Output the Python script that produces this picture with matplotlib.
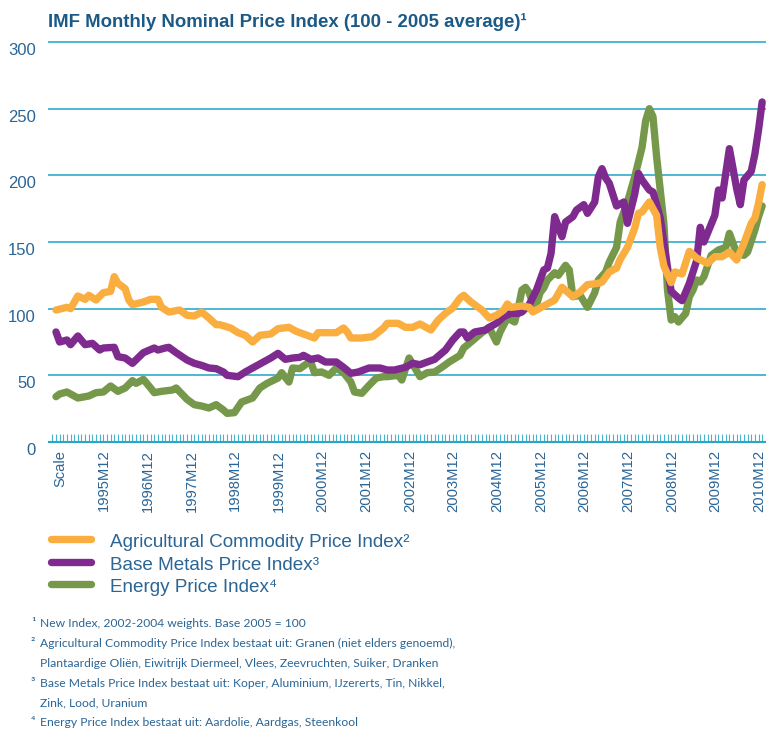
import matplotlib
matplotlib.use('Agg')
import matplotlib.pyplot as plt
import matplotlib.transforms as mtransforms
from matplotlib.lines import Line2D
from matplotlib import font_manager
from matplotlib.textpath import TextPath
from matplotlib.font_manager import FontProperties

W, H, DPI = 766, 731, 100

# ---------------- data ----------------
agri_dates = ['1994-12', '1995-03', '1995-04', '1995-06', '1995-08', '1995-09', '1995-11',
              '1996-01', '1996-03', '1996-04', '1996-05', '1996-07', '1996-08', '1996-09', '1996-12',
              '1997-02', '1997-04', '1997-05', '1997-07', '1997-10', '1997-12',
              '1998-02', '1998-04', '1998-06', '1998-08', '1998-09', '1998-12',
              '1999-02', '1999-04', '1999-06', '1999-08', '1999-11',
              '2000-01', '2000-04', '2000-06', '2000-09', '2000-11', '2000-12',
              '2001-02', '2001-05', '2001-07', '2001-08', '2001-09', '2001-12',
              '2002-03', '2002-06', '2002-07', '2002-10', '2002-12',
              '2003-02', '2003-04', '2003-07', '2003-09', '2003-11',
              '2004-01', '2004-03', '2004-04', '2004-06', '2004-09', '2004-11', '2005-01',
              '2005-03', '2005-04', '2005-05', '2005-08', '2005-10', '2005-11',
              '2006-02', '2006-05', '2006-07', '2006-10', '2006-12',
              '2007-02', '2007-05', '2007-06', '2007-08', '2007-10', '2007-11', '2008-01',
              '2008-03', '2008-04', '2008-05', '2008-07', '2008-09', '2008-10', '2008-11', '2009-01',
              '2009-02', '2009-04', '2009-06', '2009-08', '2009-11', '2010-01',
              '2010-03', '2010-05', '2010-07', '2010-09', '2010-11', '2010-12', '2011-01', '2011-02']
agri_values = [99, 101, 100, 109.5, 107, 110, 106.5,
               112, 113, 124, 119, 115, 106.5, 103, 105,
               107, 107, 101, 97.5, 99, 95,
               94.5, 97.5, 93, 88, 88, 85.5,
               82, 80, 75, 80, 81,
               85, 86, 83, 80, 78, 82,
               82, 82, 85.5, 82.5, 78, 78,
               79, 85.5, 89, 89, 86,
               86, 88.5, 84, 91.5, 96.5,
               100.5, 108, 110, 105, 99, 93, 95,
               99, 103.5, 101, 102, 101, 97.5,
               102, 106.5, 116, 109, 112.5,
               118, 119, 120, 127.5, 130.5, 137, 146,
               160.5, 171.5, 172.5, 180, 170, 146, 132, 119.5,
               127.5, 126, 143, 138, 134, 139,
               139, 142.5, 136.5, 149, 164, 168, 179, 193]

metals_dates = ['1994-12', '1995-01', '1995-03', '1995-04', '1995-06', '1995-08', '1995-10', '1995-12',
                '1996-01', '1996-04', '1996-05', '1996-07', '1996-09', '1996-12',
                '1997-03', '1997-04', '1997-06', '1997-07', '1997-09', '1997-12',
                '1998-02', '1998-04', '1998-06', '1998-08', '1998-10', '1998-11',
                '1999-02', '1999-04', '1999-06', '1999-09', '1999-11',
                '2000-01', '2000-03', '2000-05', '2000-07', '2000-08', '2000-10', '2000-12',
                '2001-02', '2001-05', '2001-07', '2001-09', '2001-11',
                '2002-02', '2002-05', '2002-07', '2002-09', '2002-12',
                '2003-02', '2003-04', '2003-06', '2003-08', '2003-11',
                '2004-01', '2004-03', '2004-04', '2004-05', '2004-07', '2004-10', '2004-11', '2005-01',
                '2005-03', '2005-05', '2005-07', '2005-08', '2005-10', '2005-12',
                '2006-02', '2006-03', '2006-04', '2006-05', '2006-07', '2006-08', '2006-10', '2006-11', '2007-01',
                '2007-02', '2007-04', '2007-05', '2007-06', '2007-07', '2007-08', '2007-10', '2007-12', '2008-01',
                '2008-03', '2008-04', '2008-05', '2008-07', '2008-08', '2008-09', '2008-10', '2008-12', '2009-01',
                '2009-03', '2009-04', '2009-06', '2009-08', '2009-09', '2009-10', '2010-01',
                '2010-02', '2010-03', '2010-05', '2010-07', '2010-08', '2010-09', '2010-11', '2010-12', '2011-01',
                '2011-02']
metals_values = [82.5, 75, 76.5, 73, 79.5, 73, 74, 69,
                 70.5, 71, 64, 63, 59, 67,
                 70.5, 69, 70.5, 71, 67, 61.5,
                 59, 57.5, 55.5, 55, 52.5, 50,
                 49, 52.5, 55.5, 60, 63,
                 66.5, 62, 63, 63.5, 65, 62, 63,
                 60, 60, 56, 51.5, 52.5,
                 55.5, 55.5, 54, 54, 56,
                 59, 58, 60, 62, 69,
                 76.5, 82.5, 82.5, 78, 82.5, 84, 86, 89,
                 94, 96.5, 96.5, 97.5, 103, 114,
                 129, 130.5, 141.5, 169, 154, 165, 169, 174, 178,
                 171.5, 180, 199, 205, 198, 194, 177, 180, 164,
                 186, 201.5, 196.5, 189, 187.5, 178, 168, 131, 113,
                 108, 106, 119, 136, 161, 150, 170,
                 189, 183, 220, 190, 178, 196.5, 203, 216, 234,
                 255]

energy_dates = ['1994-12', '1995-01', '1995-03', '1995-06', '1995-09', '1995-11',
                '1996-01', '1996-03', '1996-05', '1996-07', '1996-09', '1996-10', '1996-12',
                '1997-02', '1997-03', '1997-05', '1997-08', '1997-09', '1997-12',
                '1998-02', '1998-04', '1998-06', '1998-08', '1998-10', '1998-11',
                '1999-01', '1999-03', '1999-06', '1999-08', '1999-10',
                '2000-01', '2000-02', '2000-04', '2000-05', '2000-07', '2000-09', '2000-10', '2000-11',
                '2001-01', '2001-03', '2001-05', '2001-07', '2001-09', '2001-10', '2001-12',
                '2002-02', '2002-04', '2002-06', '2002-07', '2002-10', '2002-11',
                '2003-01', '2003-04', '2003-06', '2003-08', '2003-10', '2003-12',
                '2004-03', '2004-04', '2004-06', '2004-09', '2004-11', '2005-01',
                '2005-02', '2005-04', '2005-06', '2005-07', '2005-08', '2005-09', '2005-10', '2005-11',
                '2005-12', '2006-01',
                '2006-02', '2006-03', '2006-05', '2006-06', '2006-08', '2006-09', '2006-10', '2006-12',
                '2007-02', '2007-04', '2007-05', '2007-07', '2007-08', '2007-10', '2007-11', '2008-01',
                '2008-03', '2008-05', '2008-06', '2008-07', '2008-08', '2008-09', '2008-11', '2008-12', '2009-01',
                '2009-02', '2009-03', '2009-05', '2009-06', '2009-07', '2009-08', '2009-09', '2009-10', '2009-12',
                '2010-02', '2010-04', '2010-05', '2010-07', '2010-09', '2010-10', '2010-12', '2011-01',
                '2011-02']
energy_values = [34, 36, 37.5, 33, 34.5, 37,
                 37.5, 42, 38, 40.5, 46, 44, 47,
                 40.5, 37, 38, 39, 40.5, 32,
                 28, 27, 25.5, 28, 24, 21.5,
                 22, 30, 33, 40.5, 44,
                 48, 52, 45, 55.5, 55, 59, 60, 52,
                 52.5, 50, 55.5, 52, 45, 37.5, 36.5,
                 42.5, 48, 49, 49, 50, 46.5,
                 63, 49, 52, 52.5, 56, 60,
                 65, 70.5, 75, 82, 86, 75,
                 82.5, 93, 90, 100.5, 114, 116, 112, 104,
                 103, 112,
                 115.5, 121.5, 127, 125, 132.5, 129, 109, 110,
                 101, 112, 121.5, 127.5, 135, 146, 165, 180,
                 199, 221, 241, 250, 244, 214, 164, 114, 91.5,
                 94, 90, 96.5, 109, 114, 121.5, 120, 124, 140,
                 144, 146, 156.5, 141.5, 140, 142.5, 159, 169,
                 177]

series_names = ['Agricultural Commodity Price Index²',
                'Base Metals Price Index³',
                'Energy Price Index⁴']

tick_dates = ['1994-12', '1995-12', '1996-12', '1997-12', '1998-12', '1999-12', '2000-12',
              '2001-12', '2002-12', '2003-12', '2004-12', '2005-12', '2006-12', '2007-12',
              '2008-12', '2009-12', '2010-12']
tick_labels = ['Scale', '1995M12', '1996M12', '1997M12', '1998M12', '1999M12', '2000M12',
               '2001M12', '2002M12', '2003M12', '2004M12', '2005M12', '2006M12', '2007M12',
               '2008M12', '2009M12', '2010M12']
y_ticks = [0, 50, 100, 150, 200, 250, 300]

title = 'IMF Monthly Nominal Price Index (100 - 2005 average)¹'
footnotes = [('¹', 'New Index, 2002-2004 weights. Base 2005 = 100'),
             ('²', 'Agricultural Commodity Price Index bestaat uit: Granen (niet elders genoemd),'),
             ('', 'Plantaardige Oliën, Eiwitrijk Diermeel, Vlees, Zeevruchten, Suiker, Dranken'),
             ('³', 'Base Metals Price Index bestaat uit: Koper, Aluminium, IJzererts, Tin, Nikkel,'),
             ('', 'Zink, Lood, Uranium'),
             ('⁴', 'Energy Price Index bestaat uit: Aardolie, Aardgas, Steenkool')]

# ---------------- style ----------------
ORANGE = '#F9AE3F'
PURPLE = '#7E2A8E'
GREEN = '#76984A'
TXT = '#2A6596'
TITLE_C = '#1B5A86'
GRID = '#4DB8D2'
TICK = '#4AB4CE'

avail = {f.name for f in font_manager.fontManager.ttflist}


def fam(*names):
    return [n for n in names if n in avail] + ['DejaVu Sans']


FAM = fam('Liberation Sans')
plt.rcParams['font.family'] = FAM


def cap_to_width(name, s):
    prop = FontProperties(family=name)
    cap = TextPath((0, 0), 'H', size=10, prop=prop).get_extents().height
    wid = TextPath((0, 0), s, size=10, prop=prop).get_extents().width
    return cap / wid


# pick the most condensed installed sans for the footnotes
cands = [n for n in ['Liberation Sans Narrow', 'Roboto', 'Lato', 'Noto Sans', 'Liberation Sans',
                     'Open Sans', 'Inter'] if n in avail]
narrow_name = max(cands, key=lambda n: cap_to_width(n, footnotes[1][1])) if cands else 'DejaVu Sans'
NARROW = [narrow_name, 'DejaVu Sans']

PX_PER_MONTH = 3.64
X0 = 56.0


def month_index(d):
    y, m = map(int, d.split('-'))
    return (y - 1994) * 12 + (m - 12)


fig = plt.figure(figsize=(W / DPI, H / DPI), dpi=DPI)
ax = fig.add_axes([49 / W, 1 - 442 / H, 717 / W, 400 / H])
ax.set_xlim((49 - X0) / PX_PER_MONTH, (766 - X0) / PX_PER_MONTH)
ax.set_ylim(0, 300)

for yv in y_ticks[1:]:
    ax.axhline(yv, color=GRID, lw=1.4, zorder=1, clip_on=False)

series = [(energy_dates, energy_values, GREEN, 3),
          (metals_dates, metals_values, PURPLE, 4),
          (agri_dates, agri_values, ORANGE, 5)]
for d, v, c, z in series:
    ax.plot([month_index(s) for s in d], v, color=c, lw=5.3,
            solid_capstyle='round', solid_joinstyle='round', zorder=z, clip_on=False)

for s in ['top', 'right', 'left']:
    ax.spines[s].set_visible(False)
ax.spines['bottom'].set_color('#2AA6C6')
ax.spines['bottom'].set_linewidth(1.5)

ax.set_yticks(y_ticks)
ax.set_yticklabels([str(t) for t in y_ticks], fontsize=12, color=TXT)
ax.tick_params(axis='y', length=0, pad=9.5)
off = mtransforms.ScaledTranslation(0, -5.0 / 72, fig.dpi_scale_trans)
for lab in ax.get_yticklabels():
    lab.set_transform(lab.get_transform() + off)

ax.set_xticks([month_index(s) for s in tick_dates])
ax.set_xticklabels(tick_labels, rotation=90, ha='left', va='top', fontsize=10.6, color=TXT)
ax.set_xticks(range(-1, 196), minor=True)
ax.tick_params(axis='x', which='both', direction='in', length=5.8, width=0.8,
               color=TICK, pad=5.5)
xoff = mtransforms.ScaledTranslation(-1.8 / 72, 0, fig.dpi_scale_trans)
for lab in ax.get_xticklabels():
    lab.set_transform(lab.get_transform() + xoff)

renderer = fig.canvas.get_renderer()


def fit_size(s, family, weight, target_px, base=12.0):
    t = fig.text(0, 0, s, fontsize=base, family=family, weight=weight)
    w = t.get_window_extent(renderer).width
    t.remove()
    return base * target_px / w


# title
ts = fit_size(title, FAM, 'bold', 479)
fig.text(48 / W, 1 - 27 / H, title, fontsize=ts, weight='bold', color=TITLE_C,
         va='baseline', ha='left')

# legend
ls = fit_size(series_names[0], FAM, 'normal', 303)
leg_y = [547, 569.5, 591.5]
for (d, v, c, z), name, yb in zip([series[2], series[1], series[0]], series_names, leg_y):
    fig.add_artist(Line2D([51 / W, 91 / W], [1 - (yb - 8) / H] * 2, color=c, lw=5.3,
                          solid_capstyle='round', transform=fig.transFigure))
    fig.text(110 / W, 1 - yb / H, name, fontsize=ls, color=TXT, va='baseline', ha='left')

# footnotes
fs = fit_size(footnotes[1][1], NARROW, 'normal', 412)
foot_y = [627, 647, 667, 687, 706, 726]
for (sup, txt), yb in zip(footnotes, foot_y):
    if sup:
        fig.text(31 / W, 1 - yb / H, sup, fontsize=fs * 1.1, family=NARROW, color=TXT,
                 va='baseline', ha='left')
    fig.text(39.5 / W, 1 - yb / H, txt, fontsize=fs, family=NARROW, color=TXT,
             va='baseline', ha='left')

fig.savefig('out.png', dpi=DPI)
